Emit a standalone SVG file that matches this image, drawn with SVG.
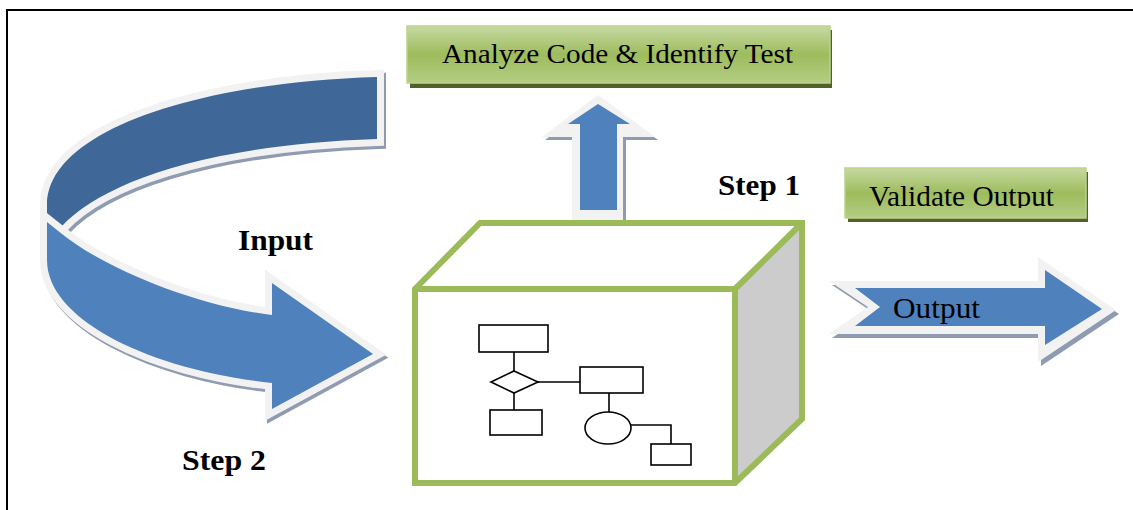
<svg xmlns="http://www.w3.org/2000/svg" width="1133" height="510" viewBox="0 0 1133 510">
<defs>
<linearGradient id="gg" x1="0" y1="0" x2="0" y2="1">
<stop offset="0" stop-color="#C6D9A2"/>
<stop offset="0.5" stop-color="#9EBC5D"/>
<stop offset="1" stop-color="#B4CD83"/>
</linearGradient>
<clipPath id="vclip"><rect x="845" y="168" width="241" height="40"/></clipPath>
<style>
.gbox{fill:url(#gg);stroke:#BCD28F;stroke-width:1.5}
.gsh{fill:#4F6228}
.sh{fill:#8E9BB0;stroke:#8E9BB0}
.wh{fill:#F2F2F2;stroke:#F2F2F2}
.lbl{font-family:"Liberation Serif","Times New Roman",serif;fill:#000}
.bold{font-weight:bold}
.fc{fill:#fff;stroke:#000;stroke-width:1.6}
.fl{fill:none;stroke:#000;stroke-width:1.6}
</style>
</defs>
<rect width="1133" height="510" fill="#fff"/>
<g id="frame">
<line x1="6" y1="10" x2="1133" y2="10" stroke="#000" stroke-width="2"/>
<line x1="7" y1="10" x2="7" y2="510" stroke="#000" stroke-width="2"/>
</g>

<g id="curved-arrow">
<path class="sh" transform="translate(2,3)" stroke-width="14" d="M377,77 C200,82 47,130 47,205 L47,220 L62,226 C100,185 200,145 377,139 Z"/>
<path class="sh" transform="translate(2,3)" stroke-width="14" d="M47,222 L62,234 C100,265 190,305 272,315 L272,283 L373,354 L272,409 L272,383 C150,370 47,320 47,260 Z"/>
<path class="wh" stroke-width="14" d="M377,77 C200,82 47,130 47,205 L47,220 L62,226 C100,185 200,145 377,139 Z"/>
<path fill="#3F6797" d="M377,77 C200,82 47,130 47,205 L47,220 L62,226 C100,185 200,145 377,139 Z"/>
<path class="wh" stroke-width="14" d="M47,222 L62,234 C100,265 190,305 272,315 L272,283 L373,354 L272,409 L272,383 C150,370 47,320 47,260 Z"/>
<path fill="#4F81BD" d="M47,222 L62,234 C100,265 190,305 272,315 L272,283 L373,354 L272,409 L272,383 C150,370 47,320 47,260 Z"/>
</g>

<g id="up-arrow">
<path fill="#8E9BB0" transform="translate(3,3)" d="M572,218 L572,137 L542,137 L598,95 L655,137 L623,137 L623,218 Z"/>
<path fill="#F2F2F2" d="M572,220 L572,137 L542,137 L598,95 L655,137 L623,137 L623,220 Z"/>
<path fill="#4F81BD" d="M580,210 L580,124 L568,124 L598,104 L630,124 L617,124 L617,210 Z"/>
</g>

<g id="output-arrow">
<path fill="#8E9BB0" transform="translate(3,4)" d="M829,281 L1038,281 L1038,257 L1116,310 L1038,362 L1038,334 L829,334 L868,307 Z"/>
<path fill="#F2F2F2" d="M829,281 L1038,281 L1038,257 L1116,310 L1038,362 L1038,334 L829,334 L868,307 Z"/>
<path fill="#4F81BD" d="M855,288 L1045,288 L1045,270 L1102,309 L1045,345 L1045,326 L855,326 L880,307 Z"/>
<text class="lbl" x="893" y="318" font-size="29" textLength="87" lengthAdjust="spacingAndGlyphs">Output</text>
</g>

<g id="analyze">
<rect class="gsh" x="410" y="30" width="422" height="58"/>
<rect class="gbox" x="407" y="26" width="423" height="57"/>
<text class="lbl" x="442" y="63" font-size="28" textLength="351" lengthAdjust="spacingAndGlyphs">Analyze Code &amp; Identify Test</text>
</g>

<g id="validate">
<rect class="gsh" x="848" y="172" width="240" height="50"/>
<rect class="gbox" x="845" y="168" width="241" height="50"/>
<text class="lbl" x="869" y="206" font-size="30" textLength="185" lengthAdjust="spacingAndGlyphs" clip-path="url(#vclip)">Validate Output</text>
</g>

<g id="cube">
<path d="M735,289 L802,223 L802,419 L735,483 Z" fill="#CCCCCC"/>
<path d="M415,289 L480,223 L802,223 L735,289 Z" fill="#fff"/>
<rect x="415" y="289" width="320" height="194" fill="#fff"/>
<path d="M415,289 L480,223 L802,223 L802,419 L735,483 L415,483 Z M415,289 L735,289 L735,483 M735,289 L802,223" fill="none" stroke="#9BBB59" stroke-width="6" stroke-linejoin="miter"/>
</g>

<g id="flowchart">
<rect class="fc" x="479" y="325" width="69" height="27"/>
<line class="fl" x1="514" y1="352" x2="514" y2="371"/>
<path class="fc" d="M514,371 L538,382 L514,393 L491,382 Z"/>
<line class="fl" x1="538" y1="382" x2="580" y2="382"/>
<rect class="fc" x="580" y="367" width="63" height="26"/>
<line class="fl" x1="514" y1="393" x2="514" y2="410"/>
<rect class="fc" x="490" y="410" width="52" height="25"/>
<line class="fl" x1="609" y1="393" x2="609" y2="412"/>
<ellipse class="fc" cx="608" cy="428" rx="23" ry="16"/>
<path class="fl" d="M631,425 L671,425 L671,444"/>
<rect class="fc" x="651" y="444" width="40" height="21"/>
</g>

<g id="labels">
<text class="lbl bold" x="718" y="195" font-size="30" textLength="82" lengthAdjust="spacingAndGlyphs">Step 1</text>
<text class="lbl bold" x="238" y="250" font-size="29" textLength="75" lengthAdjust="spacingAndGlyphs">Input</text>
<text class="lbl bold" x="182" y="470" font-size="30" textLength="84" lengthAdjust="spacingAndGlyphs">Step 2</text>
</g>
</svg>
